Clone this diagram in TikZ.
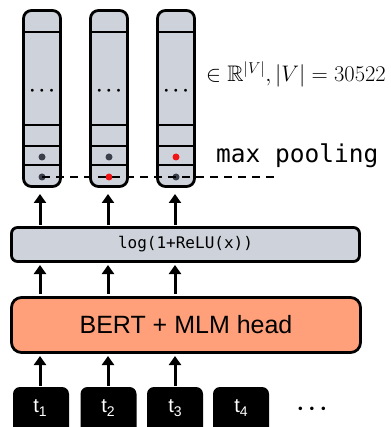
\RequirePackage{fix-cm}
\documentclass[tikz,border=0pt]{standalone}
\usepackage{amssymb}
\usepackage{fontspec}
\setmainfont{Liberation Sans}
\newfontfamily\monofont{DejaVu Sans Mono}
\usetikzlibrary{arrows.meta,calc}
\definecolor{colgray}{RGB}{206,211,219}
\definecolor{bertorange}{RGB}{255,160,122}
\definecolor{dotgray}{RGB}{58,63,74}
\definecolor{dotred}{RGB}{240,20,20}
\tikzset{
  colbox/.style={draw=black, line width=2.8pt, fill=colgray, rounded corners=8pt,
    minimum width=37pt, minimum height=176pt, inner sep=0pt},
  rowline/.style={line width=2.4pt},
  vecdot/.style={circle, fill=dotgray, minimum size=7pt, inner sep=0pt},
  reddot/.style={circle, fill=dotred, minimum size=7pt, inner sep=0pt},
  logbox/.style={draw=black, line width=2.8pt, fill=colgray, rounded corners=6pt,
    minimum width=348pt, minimum height=34pt, inner sep=0pt},
  bertbox/.style={draw=black, line width=2.8pt, fill=bertorange, rounded corners=10pt,
    minimum width=349pt, minimum height=55pt, inner sep=0pt},
  tokbox/.style={fill=black, rounded corners=7pt, minimum width=56pt,
    minimum height=50pt, inner sep=0pt},
  toktext/.style={text=white, font=\fontsize{20}{20}\selectfont, inner sep=0pt},
  arr/.style={line width=3pt, -{Triangle[length=9pt,width=12pt]}},
  pool/.style={line width=2pt, dash pattern=on 8pt off 6pt},
}
\newcommand{\tsub}[1]{t\raisebox{-0.35ex}{\fontsize{14}{14}\selectfont #1}}
\begin{document}
\begin{tikzpicture}[x=1pt,y=-1pt]
\useasboundingbox (0,0) rectangle (390,427);
% vocabulary vectors
\foreach \i/\cx in {1/42,2/109,3/176}{
  \node[colbox] (col\i) at (\cx,98.5) {};
  \draw[rowline] ($(col\i.west)+(0,-66.5)$) -- ($(col\i.east)+(0,-66.5)$);
  \draw[rowline] ($(col\i.west)+(0,26.5)$) -- ($(col\i.east)+(0,26.5)$);
  \draw[rowline] ($(col\i.west)+(0,47.5)$) -- ($(col\i.east)+(0,47.5)$);
  \draw[rowline] ($(col\i.west)+(0,66.5)$) -- ($(col\i.east)+(0,66.5)$);
  \node[font=\fontsize{19}{19}\selectfont\boldmath, inner sep=0pt] (dots\i) at (\cx,91) {$\cdots$};
}
\node[vecdot] (a1) at (42,157) {};
\node[vecdot] (b1) at (42,177) {};
\node[vecdot] (a2) at (109,157) {};
\node[reddot] (b2) at (109,177) {};
\node[reddot] (a3) at (176,157) {};
\node[vecdot] (b3) at (176,177) {};
\coordinate (poolend) at (278,177);
\draw[pool] (b1.center) -- (poolend);
\node[anchor=west, inner sep=0pt, font=\monofont\fontsize{24.5}{24.5}\selectfont] (maxpool) at (216,156) {max pooling};
\node[anchor=west, inner sep=0pt, font=\fontsize{22.5}{22.5}\selectfont] (dim) at (206,74) {$\in\mathbb{R}^{|V|},|V|=30522$};
% log box
\node[logbox] (log) at (185.5,244.5) {};
\node[font=\monofont\fontsize{16}{16}\selectfont] (logtext) at (log.center) {log(1+ReLU(x))};
% BERT box
\node[bertbox] (bert) at (186,325) {};
\node[font=\fontsize{25}{25}\selectfont] (berttext) at (bert.center) {BERT + MLM head};
% tokens
\begin{scope}
\clip (0,0) rectangle (390,427);
\node[tokbox] (tok1) at (41,412) {};
\node[tokbox] (tok2) at (108.5,412) {};
\node[tokbox] (tok3) at (175,412) {};
\node[tokbox] (tok4) at (241,412) {};
\end{scope}
\node[toktext] (tt1) at (40,408) {\tsub{1}};
\node[toktext] (tt2) at (108,408) {\tsub{2}};
\node[toktext] (tt3) at (175,408) {\tsub{3}};
\node[toktext] (tt4) at (241,408) {\tsub{4}};
\node[font=\fontsize{22.5}{22.5}\selectfont\boldmath, inner sep=0pt] (tokdots) at (312,409) {$\cdots$};
% arrows
\foreach \i/\cx in {1/40,2/108,3/175}{
  \draw[arr] (\cx,386) -- (\cx,356);
  \draw[arr] (\cx,294) -- (\cx,265);
  \draw[arr] (\cx,225) -- (\cx,194);
}
\end{tikzpicture}
\end{document}
